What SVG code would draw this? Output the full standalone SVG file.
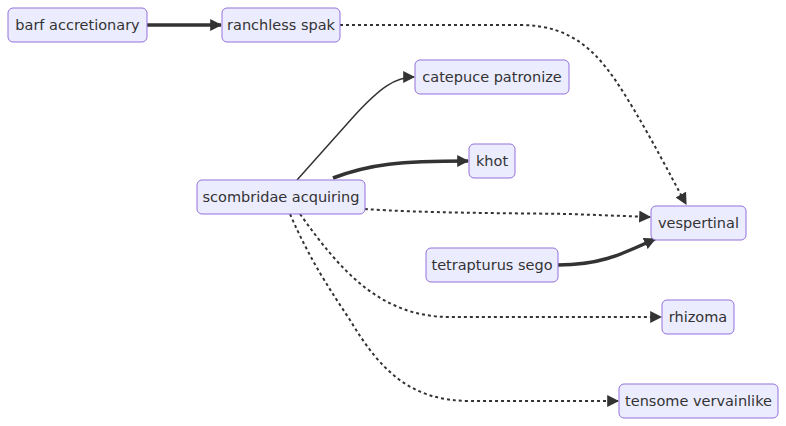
<svg xmlns="http://www.w3.org/2000/svg" width="786" height="426" viewBox="0 0 786 426">
<style>
.node rect{fill:#ECECFF;stroke:#9370DB;stroke-width:1}
.node text{font-family:"DejaVu Sans","Liberation Sans",sans-serif;font-size:14.5px;fill:#333;text-anchor:middle;dominant-baseline:central}
.e{fill:none;stroke:#333}
.thin{stroke-width:1.5}
.thick{stroke-width:3.5}
.dot{stroke-width:2;stroke-dasharray:3 3}
</style>
<defs>
<marker id="ah" viewBox="0 0 10 10" refX="9" refY="5" markerUnits="userSpaceOnUse" markerWidth="12" markerHeight="12" orient="auto">
<path d="M0,0 L10,5 L0,10 z" fill="#333"/>
</marker>
</defs>
<rect width="786" height="426" fill="#fff"/>
<g id="edges">
<path class="e thick" d="M147,25 L221,25" marker-end="url(#ah)"/>
<path class="e dot" d="M340,25 L520,25 C575,25 600,55 625,95 S670,175 686,204" marker-end="url(#ah)"/>
<path class="e thin" d="M297,180 L355,115 C380,88 395,77 414,77" marker-end="url(#ah)"/>
<path class="e thick" d="M333,178 C370,164 400,161 468,161" marker-end="url(#ah)"/>
<path class="e dot" d="M365,209 C420,213 500,213 570,214 L650,217" marker-end="url(#ah)"/>
<path class="e thick" d="M558,265 C600,265 620,255 655,239" marker-end="url(#ah)"/>
<path class="e dot" d="M300,214 C340,270 380,317 450,317 L661,317" marker-end="url(#ah)"/>
<path class="e dot" d="M290,214 C310,260 330,290 350,320 C380,370 410,401 470,401 L618,401" marker-end="url(#ah)"/>
</g>
<g id="barf" class="node"><rect x="8" y="8" width="139" height="34" rx="5"/><text x="77.5" y="25">barf accretionary</text></g>
<g id="ranchless" class="node"><rect x="222" y="8" width="118" height="34" rx="5"/><text x="281" y="25">ranchless spak</text></g>
<g id="catepuce" class="node"><rect x="415" y="60" width="154" height="34" rx="5"/><text x="492" y="77">catepuce patronize</text></g>
<g id="khot" class="node"><rect x="469" y="144" width="46" height="34" rx="5"/><text x="492" y="161">khot</text></g>
<g id="scombridae" class="node"><rect x="197" y="180" width="168" height="34" rx="5"/><text x="281" y="197">scombridae acquiring</text></g>
<g id="vespertinal" class="node"><rect x="651" y="206" width="95" height="34" rx="5"/><text x="698.5" y="223">vespertinal</text></g>
<g id="tetrapturus" class="node"><rect x="426" y="248" width="132" height="34" rx="5"/><text x="492" y="265">tetrapturus sego</text></g>
<g id="rhizoma" class="node"><rect x="662" y="300" width="72" height="34" rx="5"/><text x="698" y="317">rhizoma</text></g>
<g id="tensome" class="node"><rect x="619" y="384" width="159" height="34" rx="5"/><text x="698.5" y="401">tensome vervainlike</text></g>
</svg>
